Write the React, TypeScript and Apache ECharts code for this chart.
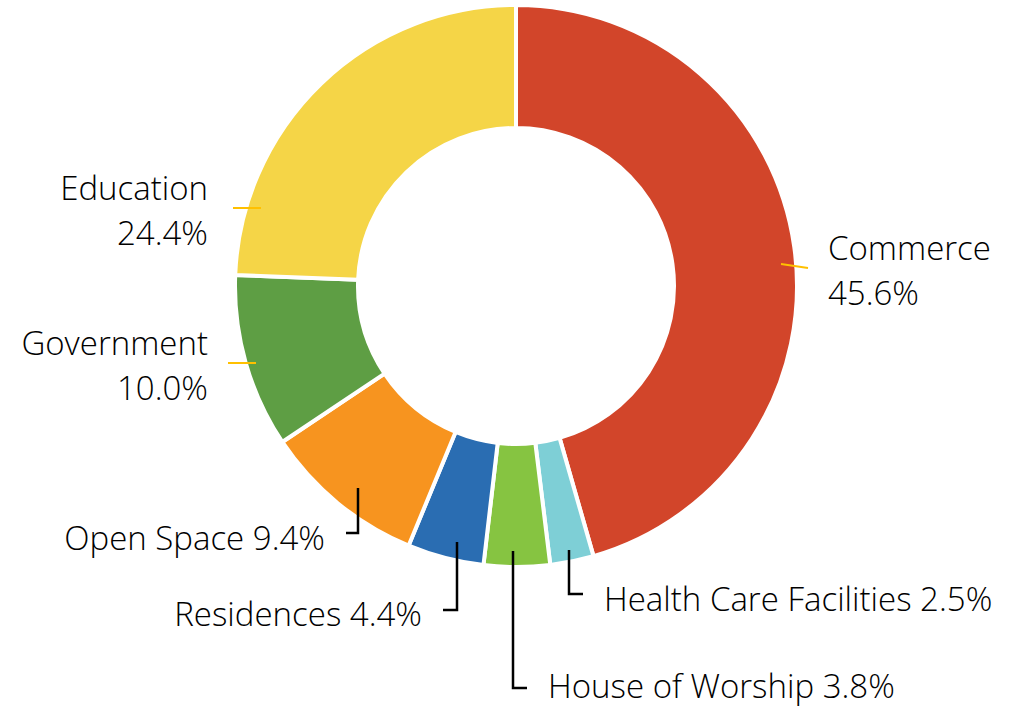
import React, { useEffect, useRef } from "react";
import * as echarts from "echarts";

const categories = [
  "Commerce",
  "Health Care Facilities",
  "House of Worship",
  "Residences",
  "Open Space",
  "Government",
  "Education",
];
const values = [45.6, 2.5, 3.8, 4.4, 9.4, 10.0, 24.4];
const colors = ["#D2452A", "#7ECFD6", "#86C441", "#2A6DB2", "#F7941F", "#5E9E44", "#F5D547"];
const twoLine = ["Commerce", "Government", "Education"];

// label placement (x, y, align, leader polyline) per slice index
const labelPlace: any[] = [
  { x: 828, y: 270, align: "left", pts: [[781, 264], [808, 268]], line: "#FFC000", lw: 2 },
  { x: 604, y: 598, align: "left", pts: [[569, 550], [569, 594], [583, 594]], line: "#000", lw: 2.5 },
  { x: 548, y: 685, align: "left", pts: [[513, 551], [513, 688], [527, 688]], line: "#000", lw: 2.5 },
  { x: 422, y: 613, align: "right", pts: [[457, 542], [457, 610], [443, 610]], line: "#000", lw: 2.5 },
  { x: 325, y: 537, align: "right", pts: [[358, 488], [358, 533], [346, 533]], line: "#000", lw: 2.5 },
  { x: 208, y: 365, align: "right", pts: [[228, 363], [256, 363]], line: "#FFC000", lw: 2 },
  { x: 208, y: 210, align: "right", pts: [[233, 208], [261, 208]], line: "#FFC000", lw: 2 },
];

export default function App() {
  const ref = useRef<HTMLDivElement>(null);
  useEffect(() => {
    document.body.style.margin = "0";
    const chart = echarts.init(ref.current!, null, { renderer: "svg" });
    const data = categories.map((name, i) => ({
      name,
      value: values[i],
      itemStyle: { color: colors[i] },
      label: { lineHeight: twoLine.includes(name) ? 45 : 33 },
    }));
    chart.setOption({
      animation: false,
      backgroundColor: "#fff",
      graphic: labelPlace.map((lp) => ({
        type: "polyline",
        z: 100,
        silent: true,
        shape: { points: lp.pts },
        style: { stroke: lp.line, lineWidth: lp.lw, fill: null },
      })),
      series: [
        {
          type: "pie",
          center: [516, 286],
          radius: [158, 281],
          startAngle: 90,
          clockwise: true,
          data,
          itemStyle: { borderColor: "#fff", borderWidth: 4 },
          label: {
            show: true,
            position: "outside",
            fontFamily: "Open Sans",
            fontWeight: 300,
            fontSize: 33,
            color: "#000",
            overflow: "none",
            width: 500,
            formatter: (p: any) =>
              twoLine.includes(p.name)
                ? `${p.name}\n${Number(p.value).toFixed(1)}%`
                : `${p.name} ${Number(p.value).toFixed(1)}%`,
          },
          labelLine: { show: false },
          labelLayout: (params: any) => {
            const lp = labelPlace[params.dataIndex];
            return {
              x: lp.x,
              y: lp.y,
              align: lp.align,
              verticalAlign: "middle",
            };
          },
          emphasis: { disabled: true },
        },
      ],
    });
    return () => chart.dispose();
  }, []);
  return <div ref={ref} style={{ width: 1014, height: 706 }} />;
}
